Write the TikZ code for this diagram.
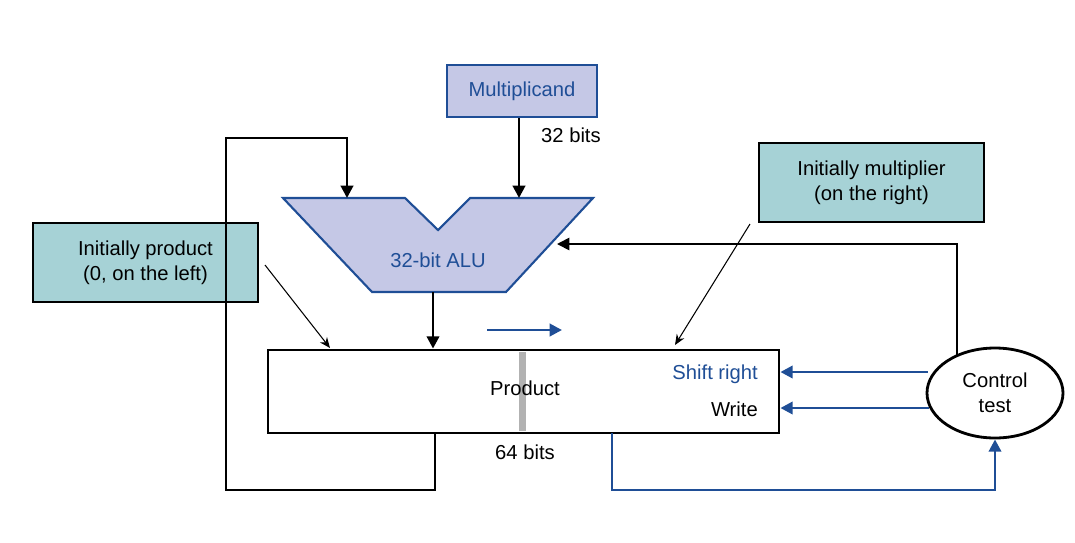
\documentclass[tikz,border=0pt]{standalone}
\usepackage{fontspec}
\setmainfont{Liberation Sans}
\usetikzlibrary{shapes.geometric,arrows.meta}
\definecolor{dblue}{HTML}{1F4E96}
\definecolor{alufill}{HTML}{C5C8E6}
\definecolor{teal}{HTML}{A6D2D6}
\begin{document}
\begin{tikzpicture}[x=0.02cm,y=-0.02cm,
  txt/.style={font=\fontsize{11.5}{14}\selectfont},
  blk/.style={line width=1.6pt},
  blu/.style={line width=1.6pt,draw=dblue},
  arr/.style={-{Triangle[length=7pt,width=7pt]}},
  thin/.style={line width=0.6pt,-{Stealth[length=6pt,width=5pt]}},
  note/.style={draw=black,line width=0.8pt,fill=teal,txt,align=center,minimum width=225*0.02cm,minimum height=79*0.02cm,inner sep=0pt}]
\useasboundingbox (0,0) rectangle (1075,542);
% multiplicand
\node[draw=dblue,line width=1.2pt,fill=alufill,txt,text=dblue,minimum width=150*0.02cm,minimum height=52*0.02cm,inner sep=0pt] (mc) at (522,91) {Multiplicand};
\node[txt,anchor=west] (b32) at (535,135) {32 bits};
% ALU
\draw[draw=dblue,line width=1.2pt,fill=alufill] (283,198) -- (405,198) -- (438,230) -- (470,198) -- (593,198) -- (506,292) -- (372,292) -- cycle;
\node[txt,text=dblue] (alu) at (438,260) {32-bit ALU};
\coordinate (aluin1) at (347,198);
\coordinate (aluin2) at (519,198);
\coordinate (aluout) at (433,292);
\coordinate (aluright) at (557,244);
% product
\node[draw,line width=1.6pt,minimum width=511*0.02cm,minimum height=83*0.02cm,inner sep=0pt] (prod) at (523.5,391.5) {};
\fill[gray!60] (519,352) rectangle (526,431);
\node[txt] (ptxt) at (525,388) {Product};
\node[txt,text=dblue,anchor=east] (sr) at (764,374) {Shift right};
\node[txt,anchor=east] (wr) at (764,409) {Write};
\node[txt] (b64) at (525,452) {64 bits};
% control
\node[draw,ellipse,line width=1.6pt,minimum width=136*0.02cm,minimum height=90*0.02cm,txt,align=center,inner sep=0pt] (ctl) at (995,393) {Control\\test};
% notes
\node[note] (n1) at (145.5,262.5) {Initially product\\(0, on the left)};
\node[note] (n2) at (871.5,182.5) {Initially multiplier\\(on the right)};
% connectors
\draw[blk,arr] (mc.south -| aluin2) -- (aluin2);
\draw[blk,arr] (aluout) -- (aluout |- prod.north);
\draw[blk,arr] (435,433) -- (435,490) -- (226,490) -- (226,138) -- (347,138) -- (aluin1);
\draw[line width=1pt,arr] (ctl.north west) ++(0,0) coordinate (ct) (957,355) -- (957,244) -- (aluright);
\draw[blu,arr] (ctl.west |- 0,372) ++(2,0) -- (prod.east |- 0,372);
\draw[blu,arr] (929,408) -- (prod.east |- 0,408);
\draw[blu,arr] (612,433) -- (612,490) -- (995,490) -- (ctl.south);
\draw[blu,arr] (487,330) -- (562,330);
\draw[thin] (265,265) -- (330,348);
\draw[thin] (750,224) -- (675,345);
\end{tikzpicture}
\end{document}
